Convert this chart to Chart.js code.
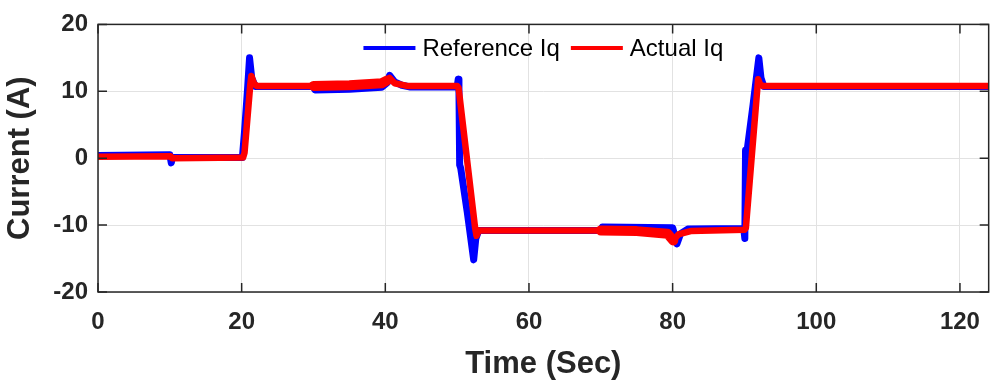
<!DOCTYPE html>
<html>
<head>
<meta charset="utf-8">
<script src="https://cdn.jsdelivr.net/npm/chart.js@4.4.1/dist/chart.umd.min.js"></script>
<style>
  html, body { margin: 0; padding: 0; background: #fff; }
  #wrap { width: 996px; height: 387px; position: relative; }
</style>
</head>
<body>
<div id="wrap"><canvas id="iqChart"></canvas></div>
<script>
// Reference Iq (blue)
const refTime = [0, 10.0, 10.2, 10.35, 20.1, 20.4, 20.8, 21.1, 21.4, 21.9, 30.0, 30.2, 35.0, 39.5, 40.3, 40.6, 41.3, 42.3, 43.5,
  50.0, 50.15, 50.25, 50.35, 50.5, 51.4, 52.3, 52.6, 53.0, 70.0, 70.2, 80.0, 80.6, 81.1, 82.1,
  89.9, 90.05, 90.15, 90.35, 91.2, 92.0, 92.3, 92.7, 124];
const refIq = [0.4, 0.5, -0.7, 0.1, 0.1, 4, 10, 15, 12, 10.7, 10.7, 10.2, 10.3, 10.6, 11.3, 12.4, 11.4, 10.9, 10.65,
  10.65, 11.8, 10.5, -1.0, -1.5, -8, -15.2, -12, -10.8, -10.8, -10.3, -10.4, -12.8, -11.3, -10.6,
  -10.5, -12, 1.2, 1, 8, 15, 12, 10.7, 10.7];

// Actual Iq (red)
const actTime = [0, 10.1, 10.3, 20.2, 20.4, 21.2, 21.35, 21.7, 22.1, 30.0, 35.0, 39.5, 40.2, 40.6, 41.3, 43.0,
  50.0, 50.2, 52.5, 52.7, 53.0, 70.0, 75.0, 79.3, 80.1, 80.8, 82.5,
  90.0, 90.2, 91.9, 92.2, 92.6, 124];
const actIq = [0.2, 0.3, 0.0, 0.1, 0.8, 11, 12.3, 11.2, 10.8, 10.8, 10.9, 11.2, 11.6, 12.0, 11.2, 10.8,
  10.8, 10.5, -10.4, -11.6, -10.8, -10.8, -10.9, -11.3, -12.3, -11.4, -10.9,
  -10.7, -10.4, 11.8, 11.0, 10.8, 10.8];

const xTicks = [0, 20, 40, 60, 80, 100, 120];
const yTicks = [-20, -10, 0, 10, 20];

const INK = '#262626';
const FONT = "'Liberation Sans', Arial, Helvetica, sans-serif";

const toPoints = (xs, ys) => xs.map((x, i) => ({ x: x, y: ys[i] }));

// thicker red band where the actual current oscillates
function actWidth(ctx) {
  const x = ctx.p0.parsed.x;
  if (x >= 30 && x < 40.2) return 10;
  if (x >= 70 && x < 80.1) return 10;
  return 6.5;
}

// MATLAB style box with inward ticks
const boxPlugin = {
  id: 'axesBox',
  afterDatasetsDraw(chart) {
    const { ctx, chartArea: a, scales } = chart;
    ctx.save();
    ctx.strokeStyle = INK;
    ctx.lineWidth = 1.5;
    ctx.strokeRect(a.left, a.top, a.right - a.left, a.bottom - a.top);
    const len = 9;
    ctx.beginPath();
    xTicks.forEach(v => {
      const px = scales.x.getPixelForValue(v);
      ctx.moveTo(px, a.bottom); ctx.lineTo(px, a.bottom - len);
      ctx.moveTo(px, a.top); ctx.lineTo(px, a.top + len);
    });
    yTicks.forEach(v => {
      const py = scales.y.getPixelForValue(v);
      ctx.moveTo(a.left, py); ctx.lineTo(a.left + len, py);
      ctx.moveTo(a.right, py); ctx.lineTo(a.right - len, py);
    });
    ctx.stroke();
    ctx.restore();
  }
};

// legend drawn inside the plot, centred at the top
const innerLegend = {
  id: 'innerLegend',
  afterDraw(chart) {
    const { ctx, chartArea: a } = chart;
    const sets = chart.data.datasets;
    const lineLen = 52, gap = 7, itemGap = 11;
    ctx.save();
    ctx.font = '24px ' + FONT;
    const widths = sets.map(d => lineLen + gap + ctx.measureText(d.label).width);
    const total = widths.reduce((s, w) => s + w, 0) + itemGap * (sets.length - 1);
    let x = (a.left + a.right) / 2 - total / 2;
    const y = 48;
    sets.forEach((d, i) => {
      ctx.strokeStyle = d.borderColor;
      ctx.lineWidth = 4;
      ctx.beginPath();
      ctx.moveTo(x, y); ctx.lineTo(x + lineLen, y);
      ctx.stroke();
      ctx.fillStyle = '#000';
      ctx.textBaseline = 'middle';
      ctx.fillText(d.label, x + lineLen + gap, y + 1);
      x += widths[i] + itemGap;
    });
    ctx.restore();
  }
};

new Chart(document.getElementById('iqChart'), {
  type: 'line',
  data: {
    datasets: [{
      label: 'Reference Iq',
      data: toPoints(refTime, refIq),
      order: 1,
      borderColor: '#0000ff',
      backgroundColor: '#0000ff',
      borderWidth: 7,
      pointRadius: 0,
      tension: 0,
      borderJoinStyle: 'round',
      borderCapStyle: 'round'
    }, {
      label: 'Actual Iq',
      data: toPoints(actTime, actIq),
      order: 0,
      borderColor: '#ff0000',
      backgroundColor: '#ff0000',
      borderWidth: 6.5,
      pointRadius: 0,
      tension: 0,
      borderJoinStyle: 'round',
      borderCapStyle: 'round',
      segment: { borderWidth: actWidth }
    }]
  },
  options: {
    responsive: true,
    maintainAspectRatio: false,
    animation: false,
    layout: { padding: { top: 18, right: 1, left: 0, bottom: 0 } },
    plugins: { legend: { display: false }, tooltip: { enabled: false } },
    scales: {
      x: {
        type: 'linear',
        min: 0,
        max: 124,
        afterBuildTicks: s => { s.ticks = xTicks.map(v => ({ value: v })); },
        afterFit: s => { s.height = 95; },
        grid: { color: '#e2e2e2', lineWidth: 1, drawTicks: false },
        border: { display: false },
        ticks: { color: INK, padding: 16, maxRotation: 0, font: { family: FONT, size: 24, weight: 'bold' } },
        title: { display: true, text: 'Time (Sec)', color: INK, padding: { top: 4, bottom: 4 },
                 font: { family: FONT, size: 31, weight: 'bold' } }
      },
      y: {
        min: -20,
        max: 20,
        afterBuildTicks: s => { s.ticks = yTicks.map(v => ({ value: v })); },
        afterFit: s => { s.width = 98; },
        grid: { color: '#e2e2e2', lineWidth: 1, drawTicks: false },
        border: { display: false },
        ticks: { color: INK, padding: 10, font: { family: FONT, size: 24, weight: 'bold' } },
        title: { display: true, text: 'Current (A)', color: INK, padding: { top: 2, bottom: 2 },
                 font: { family: FONT, size: 31, weight: 'bold' } }
      }
    }
  },
  plugins: [boxPlugin, innerLegend]
});
</script>
</body>
</html>
